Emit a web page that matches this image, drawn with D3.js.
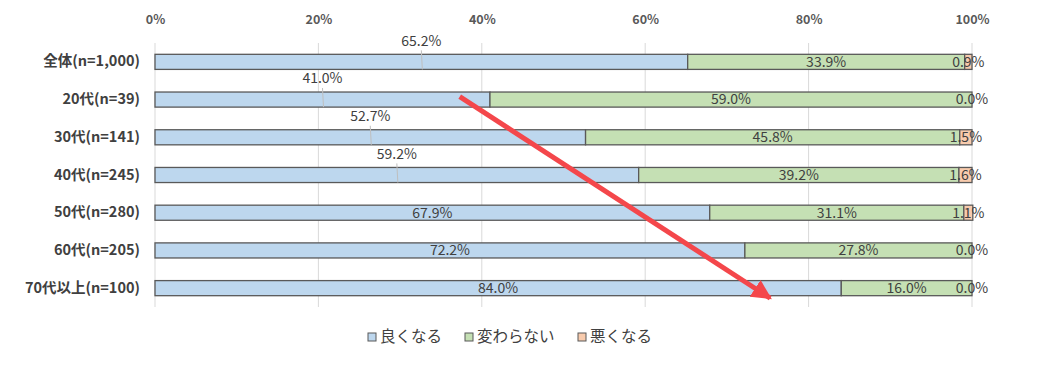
<!DOCTYPE html>
<html>
<head>
<meta charset="utf-8">
<script src="https://cdn.jsdelivr.net/npm/d3@7"></script>
<style>
  body { margin: 0; background: #fff; }
  text { font-family: "Noto Sans CJK JP", "Noto Sans", sans-serif; }
</style>
</head>
<body>
<div id="chart"></div>
<script>
// Data
var categories = ["全体(n=1,000)", "20代(n=39)", "30代(n=141)", "40代(n=245)", "50代(n=280)", "60代(n=205)", "70代以上(n=100)"];
var seriesNames = ["良くなる", "変わらない", "悪くなる"];
var good = [65.2, 41.0, 52.7, 59.2, 67.9, 72.2, 84.0];
var same = [33.9, 59.0, 45.8, 39.2, 31.1, 27.8, 16.0];
var bad = [0.9, 0.0, 1.5, 1.6, 1.1, 0.0, 0.0];
var tickValues = [0, 20, 40, 60, 80, 100];
// first-series labels that Excel moved above the bar
var raisedLabel = [true, true, true, true, false, false, false];

var colors = ["#bdd7ee", "#c5e0b4", "#f8cbad"];

var svgWidth = 1037;
var svgHeight = 379;
var margin = { top: 43, right: 65, bottom: 72, left: 155 };
var chartWidth = svgWidth - margin.left - margin.right;
var chartHeight = svgHeight - margin.top - margin.bottom;

var svg = d3.select("#chart")
  .append("svg")
  .attr("width", svgWidth)
  .attr("height", svgHeight);

var chartGroup = svg.append("g")
  .attr("transform", `translate(${margin.left}, ${margin.top})`);

var xScale = d3.scaleLinear().domain([0, 100]).range([0, chartWidth]);
var yScale = d3.scaleBand()
  .domain(categories)
  .range([0, chartHeight])
  .paddingInner(0.6)
  .paddingOuter(0.3);

// gridlines
chartGroup.selectAll(".grid")
  .data(tickValues)
  .enter()
  .append("line")
  .attr("x1", d => xScale(d))
  .attr("x2", d => xScale(d))
  .attr("y1", 0)
  .attr("y2", chartHeight)
  .attr("stroke", "#d9d9d9")
  .attr("stroke-width", 1);

// top axis labels
var topAxis = d3.axisTop(xScale)
  .tickValues(tickValues)
  .tickFormat(d => d + "%")
  .tickSize(0)
  .tickPadding(0);

var axisG = chartGroup.append("g")
  .attr("transform", "translate(0, -19)")
  .call(topAxis);
axisG.select(".domain").remove();
axisG.selectAll("text")
  .attr("fill", "#595959")
  .style("font-size", "12.5px")
  .style("font-weight", "bold");

// category labels
var leftAxis = d3.axisLeft(yScale).tickSize(0).tickPadding(15);
var leftG = chartGroup.append("g").call(leftAxis);
leftG.select(".domain").remove();
leftG.selectAll("text")
  .attr("fill", "#404040")
  .style("font-size", "14.5px")
  .style("font-weight", "bold");

// stacked rows
var rows = categories.map(function (c, i) {
  var vals = [good[i], same[i], bad[i]];
  var start = 0;
  return vals.map(function (v, k) {
    var seg = { cat: c, idx: i, k: k, v: v, x0: start, x1: start + v };
    start += v;
    return seg;
  });
});
var segments = [].concat.apply([], rows);

chartGroup.selectAll(".seg")
  .data(segments)
  .enter()
  .append("rect")
  .attr("x", d => xScale(d.x0))
  .attr("y", d => yScale(d.cat))
  .attr("width", d => xScale(d.x1) - xScale(d.x0))
  .attr("height", yScale.bandwidth())
  .attr("fill", d => colors[d.k])
  .attr("stroke", "#595959")
  .attr("stroke-width", 1.3);

// leader lines for raised labels
chartGroup.selectAll(".leader")
  .data(segments.filter(d => d.k === 0 && raisedLabel[d.idx]))
  .enter()
  .append("line")
  .attr("x1", d => xScale((d.x0 + d.x1) / 2))
  .attr("x2", d => xScale((d.x0 + d.x1) / 2) + 1)
  .attr("y1", d => yScale(d.cat) - 4)
  .attr("y2", d => yScale(d.cat) + yScale.bandwidth())
  .attr("stroke", "#bfbfbf")
  .attr("stroke-width", 1);

// data labels
chartGroup.selectAll(".lbl")
  .data(segments)
  .enter()
  .append("text")
  .attr("x", d => xScale((d.x0 + d.x1) / 2))
  .attr("y", function (d) {
    var cy = yScale(d.cat) + yScale.bandwidth() / 2;
    if (d.k === 0 && raisedLabel[d.idx]) return cy - 21;
    return cy;
  })
  .attr("dy", "0.35em")
  .attr("text-anchor", "middle")
  .attr("fill", "#404040")
  .style("font-size", "14px")
  .text(d => d.v.toFixed(1) + "%");

// red annotation arrow
var defs = svg.append("defs");
defs.append("marker")
  .attr("id", "arrowHead")
  .attr("viewBox", "0 0 10 10")
  .attr("refX", 9)
  .attr("refY", 5)
  .attr("markerWidth", 4)
  .attr("markerHeight", 4)
  .attr("orient", "auto")
  .append("path")
  .attr("d", "M0,0 L10,5 L0,10 z")
  .attr("fill", "#f4474b");

var arrowFrom = { x: 37.3, cat: categories[1], dy: -3 };
var arrowTo = { x: 75.3, cat: categories[6], dy: 10 };
chartGroup.append("line")
  .attr("x1", xScale(arrowFrom.x))
  .attr("y1", yScale(arrowFrom.cat) + yScale.bandwidth() / 2 + arrowFrom.dy)
  .attr("x2", xScale(arrowTo.x))
  .attr("y2", yScale(arrowTo.cat) + yScale.bandwidth() / 2 + arrowTo.dy)
  .attr("stroke", "#f4474b")
  .attr("stroke-width", 5)
  .attr("marker-end", "url(#arrowHead)");

// legend
var legendItems = seriesNames.map((n, i) => ({ name: n, color: colors[i] }));
var legend = svg.append("g").attr("transform", "translate(0, 337)");
var itemX = [368, 465, 578];
var items = legend.selectAll(".leg")
  .data(legendItems)
  .enter()
  .append("g")
  .attr("transform", (d, i) => `translate(${itemX[i]}, 0)`);
items.append("rect")
  .attr("x", 0)
  .attr("y", -4)
  .attr("width", 8)
  .attr("height", 8)
  .attr("fill", d => d.color)
  .attr("stroke", "#595959")
  .attr("stroke-width", 1);
items.append("text")
  .attr("x", 12)
  .attr("y", 0)
  .attr("dy", "0.35em")
  .attr("fill", "#404040")
  .style("font-size", "15.5px")
  .text(d => d.name);
</script>
</body>
</html>
